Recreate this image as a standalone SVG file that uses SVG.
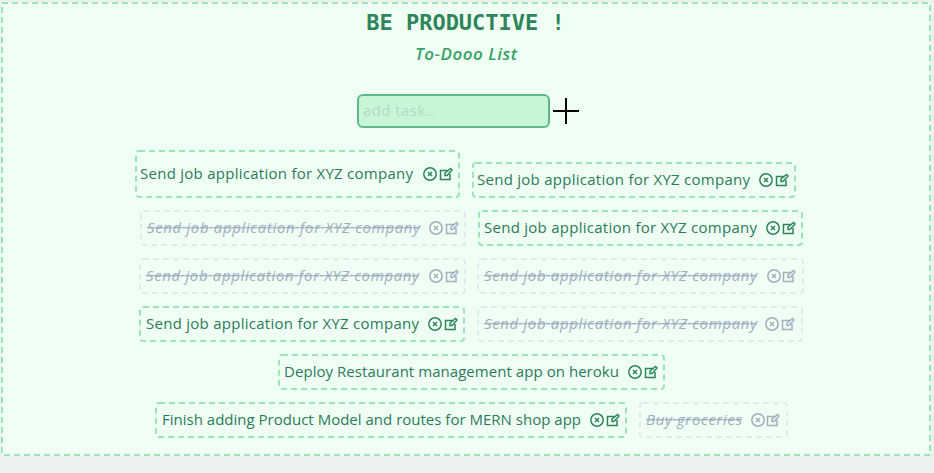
<svg xmlns="http://www.w3.org/2000/svg" width="934" height="473" viewBox="0 0 934 473">
<style>
text{font-family:"Open Sans","Noto Sans","DejaVu Sans",sans-serif}
.card{fill:none;stroke:#9ae6b4;stroke-width:2;stroke-dasharray:6 4}
.cardd{fill:none;stroke:#e2e8f0;stroke-width:2;stroke-dasharray:6 4}
.t{font-size:15px;fill:#2c7a5b}
.td{font-size:15px;fill:#a0aec0;font-style:italic;text-decoration:line-through}
.i{fill:none;stroke:#2f855a;stroke-width:1.5}
.f .i{stroke:#a0aec0}
</style>
<defs>
<g id="x"><circle r="6.200"/><path d="M-2-2L2 2M2-2L-2 2"/></g>
<g id="e"><path d="M3-3.500H-5.500V5.500H4V0M-1 1.500L-1-1 4.500-5.500 6-4 1 1.500Z"/></g>
</defs>
<rect width="934" height="473" fill="#edf2f0"/>
<rect x="2" y="3" width="928" height="452" fill="#f0fff4"/>
<rect x="2" y="3" width="928" height="452" class="card"/>
<g id="header">
<text x="465.500" y="30" text-anchor="middle" style="font-family:'DejaVu Sans Mono',monospace;font-size:22px;font-weight:700;fill:#2f855a">BE PRODUCTIVE !</text>
<text x="415" y="60" textLength="102" style="font-size:17px;font-style:italic;font-weight:600;fill:#38a169">To-Dooo List</text>
</g>
<g id="input">
<rect x="358" y="95" width="191" height="32" rx="5" fill="#c6f6d5" stroke="#5fb985" stroke-width="2"/>
<text x="363" y="116" textLength="71" style="font-size:15px;fill:#b5d8c6">add task..</text>
</g>
<g id="add"><path d="M553 111H579M566 98V124" stroke="#000" stroke-width="2" fill="none"/></g>
<g id="task1"><rect x="136" y="151" width="323" height="46" rx="3" class="card"/><text x="140" y="179" textLength="273" class="t">Send job application for XYZ company</text><use href="#x" x="430" y="174" class="i"/><use href="#e" x="446" y="174" class="i"/></g>
<g id="task2"><rect x="473" y="163" width="322" height="34" rx="3" class="card"/><text x="477" y="185" textLength="273" class="t">Send job application for XYZ company</text><use href="#x" x="766" y="180" class="i"/><use href="#e" x="782" y="180" class="i"/></g>
<g id="task3" class="f"><rect x="141" y="211" width="324" height="34" rx="3" class="cardd"/><text x="147" y="233" textLength="273" class="td">Send job application for XYZ company</text><use href="#x" x="436" y="228" class="i"/><use href="#e" x="452" y="228" class="i"/></g>
<g id="task4"><rect x="479" y="211" width="323" height="34" rx="3" class="card"/><text x="484" y="233" textLength="273" class="t">Send job application for XYZ company</text><use href="#x" x="773" y="228" class="i"/><use href="#e" x="789" y="228" class="i"/></g>
<g id="task5" class="f"><rect x="140" y="259" width="325" height="34" rx="3" class="cardd"/><text x="146" y="281" textLength="273" class="td">Send job application for XYZ company</text><use href="#x" x="436" y="276" class="i"/><use href="#e" x="452" y="276" class="i"/></g>
<g id="task6" class="f"><rect x="478" y="259" width="325" height="34" rx="3" class="cardd"/><text x="484" y="281" textLength="273" class="td">Send job application for XYZ company</text><use href="#x" x="774" y="276" class="i"/><use href="#e" x="789" y="276" class="i"/></g>
<g id="task7"><rect x="140" y="307" width="324" height="34" rx="3" class="card"/><text x="146" y="329" textLength="273" class="t">Send job application for XYZ company</text><use href="#x" x="435" y="324" class="i"/><use href="#e" x="451" y="324" class="i"/></g>
<g id="task8" class="f"><rect x="478" y="307" width="324" height="34" rx="3" class="cardd"/><text x="484" y="329" textLength="273" class="td">Send job application for XYZ company</text><use href="#x" x="772" y="324" class="i"/><use href="#e" x="788" y="324" class="i"/></g>
<g id="task9"><rect x="279" y="355" width="385" height="34" rx="3" class="card"/><text x="284" y="377" textLength="335" class="t">Deploy Restaurant management app on heroku</text><use href="#x" x="635" y="372" class="i"/><use href="#e" x="651" y="372" class="i"/></g>
<g id="task10"><rect x="156" y="403" width="470" height="34" rx="3" class="card"/><text x="162" y="425" textLength="419" class="t">Finish adding Product Model and routes for MERN shop app</text><use href="#x" x="597" y="420" class="i"/><use href="#e" x="613" y="420" class="i"/></g>
<g id="task11" class="f"><rect x="640" y="403" width="147" height="34" rx="3" class="cardd"/><text x="646" y="425" textLength="96" class="td">Buy groceries</text><use href="#x" x="758" y="420" class="i"/><use href="#e" x="773" y="420" class="i"/></g>
<g id="connectors"/>
</svg>
